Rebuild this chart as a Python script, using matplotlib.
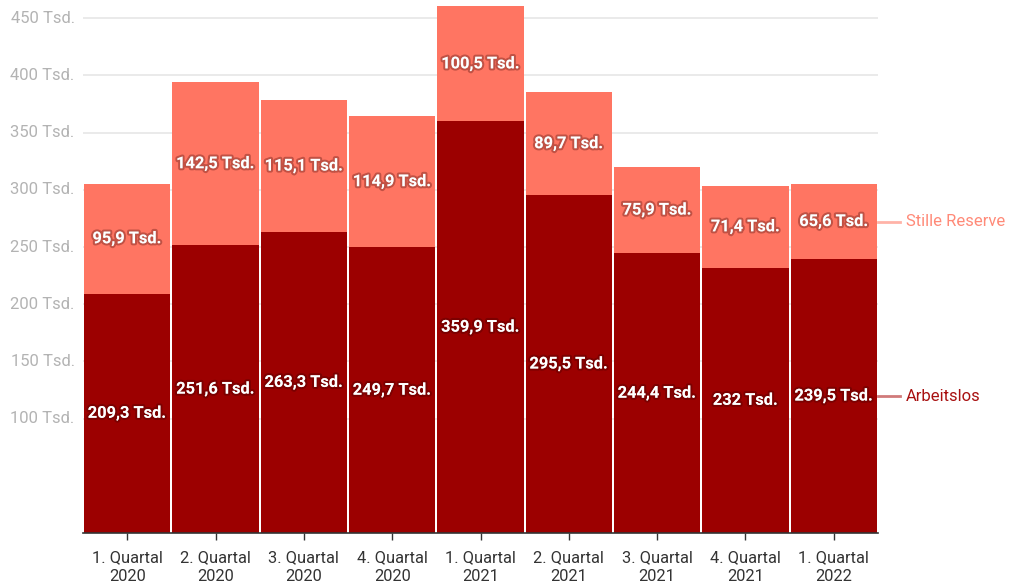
import matplotlib
matplotlib.use("Agg")
import matplotlib.pyplot as plt
import matplotlib.patheffects as pe
import numpy as np

plt.rcParams['font.family'] = ['Roboto', 'DejaVu Sans']

categories = ["1. Quartal\n2020", "2. Quartal\n2020", "3. Quartal\n2020", "4. Quartal\n2020",
              "1. Quartal\n2021", "2. Quartal\n2021", "3. Quartal\n2021", "4. Quartal\n2021",
              "1. Quartal\n2022"]
arbeitslos = [209.3, 251.6, 263.3, 249.7, 359.9, 295.5, 244.4, 232.0, 239.5]
stille_reserve = [95.9, 142.5, 115.1, 114.9, 100.5, 89.7, 75.9, 71.4, 65.6]
yticks = [100, 150, 200, 250, 300, 350, 400, 450]

def fmt(v):
    s = ("%.1f" % v).replace(".", ",")
    if s.endswith(",0"):
        s = s[:-2]
    return s + " Tsd."

c_dark = "#9c0000"
c_light = "#ff7562"

fig = plt.figure(figsize=(10.1, 5.86), dpi=100)
ax = fig.add_axes([83/1010, 53/586, (878-83)/1010, 533/586])

x = np.arange(len(categories))
ax.set_xlim(-0.5, len(categories) - 0.5)
ax.set_ylim(0, 466)

for y in yticks:
    ax.axhline(y, color="#e6e6e6", lw=1.2, zorder=0)

ax.bar(x, arbeitslos, width=0.98, color=c_dark, linewidth=0, zorder=2)
ax.bar(x, stille_reserve, bottom=arbeitslos, width=0.98, color=c_light, linewidth=0, zorder=2)

shadow = [pe.withStroke(linewidth=3, foreground=(0.2, 0, 0, 0.3))]
for i in range(len(categories)):
    ax.text(x[i], arbeitslos[i] / 2, fmt(arbeitslos[i]), ha="center", va="center",
            color="white", fontsize=11.8, fontweight="bold", zorder=5, path_effects=shadow)
    ax.text(x[i], arbeitslos[i] + stille_reserve[i] / 2, fmt(stille_reserve[i]), ha="center", va="center",
            color="white", fontsize=11.8, fontweight="bold", zorder=5, path_effects=shadow)

ax.set_xticks(x)
ax.set_xticklabels(categories, fontsize=11.8, color="#333333", linespacing=1.4)
ax.tick_params(axis="x", length=5, width=1, color="#333333", pad=7)
ax.set_yticks([])
for y in yticks:
    ax.text(-0.0105, y, "%d Tsd." % y, transform=ax.get_yaxis_transform(), ha="right", va="center",
            fontsize=12, color="#b3b3b3")

for s in ["top", "right", "left"]:
    ax.spines[s].set_visible(False)
ax.spines["bottom"].set_color("#333333")
ax.spines["bottom"].set_linewidth(1.2)

# right-side labels
last = len(categories) - 1
ylab_sr = arbeitslos[last] + stille_reserve[last] / 2
ylab_al = arbeitslos[last] / 2
ax.plot([1.0, 1.028], [ylab_sr, ylab_sr], transform=ax.get_yaxis_transform(), color="#ffb3a8", lw=2, clip_on=False)
ax.plot([1.0, 1.028], [ylab_al, ylab_al], transform=ax.get_yaxis_transform(), color="#d07a7a", lw=2, clip_on=False)
ax.text(1.035, ylab_sr, "Stille Reserve", transform=ax.get_yaxis_transform(), ha="left", va="center",
        fontsize=12, color="#ff8a78")
ax.text(1.035, ylab_al, "Arbeitslos", transform=ax.get_yaxis_transform(), ha="left", va="center",
        fontsize=12, color="#a81010")

fig.savefig("out.png", dpi=100)
